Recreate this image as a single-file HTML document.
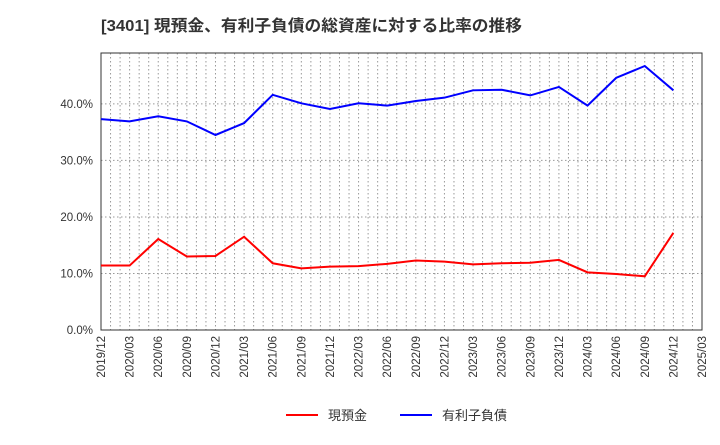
<!DOCTYPE html>
<html><head><meta charset="utf-8"><style>
body{margin:0;background:#fff;}
svg text{font-family:"Liberation Sans","Noto Sans CJK JP",sans-serif;}
</style></head><body>
<svg id="c" width="720" height="440">
<text x="101" y="31" font-size="16" font-weight="bold" fill="#333" textLength="421" lengthAdjust="spacingAndGlyphs">[3401]  現預金、有利子負債の総資産に対する比率の推移</text>
</svg>
<script>
const categories=["2019/12","2020/03","2020/06","2020/09","2020/12","2021/03","2021/06","2021/09","2021/12","2022/03","2022/06","2022/09","2022/12","2023/03","2023/06","2023/09","2023/12","2024/03","2024/06","2024/09","2024/12","2025/03"];
const cashValues=[11.4,11.4,16.1,13.0,13.1,16.5,11.8,10.9,11.2,11.3,11.7,12.3,12.1,11.6,11.8,11.9,12.4,10.2,9.9,9.5,17.2];
const debtValues=[37.3,36.9,37.8,36.9,34.5,36.6,41.6,40.1,39.1,40.1,39.7,40.5,41.1,42.4,42.5,41.5,43.0,39.7,44.6,46.7,42.4];
const yTicks=[0,10,20,30,40];
const L=101,R=702,T=53,B=330,yMax=49;
const NS="http://www.w3.org/2000/svg";
const svg=document.getElementById('c');
const xs=i=>L+(R-L)*i/(categories.length-1);
const ys=v=>B-(B-T)*v/yMax;
function el(t,a){const e=document.createElementNS(NS,t);for(const k in a)e.setAttribute(k,a[k]);svg.appendChild(e);return e;}
const months=(categories.length-1)*3;
for(let m=1;m<months;m++){const x=L+(R-L)*m/months;
const g=el('line',{x1:x,x2:x,y1:T,y2:B,stroke:'#999','stroke-dasharray':'1.5,2.5','stroke-width':1});
}
yTicks.forEach(v=>{const y=ys(v);
if(v>0){const g=el('line',{x1:L,x2:R,y1:y,y2:y,stroke:'#999','stroke-dasharray':'1.5,2.5'});
}
const t=el('text',{x:L-8,y:y+4,'text-anchor':'end','font-size':11.5,fill:'#333'});t.textContent=v.toFixed(1)+'%';
});
const f=el('rect',{x:L,y:T,width:R-L,height:B-T,fill:'none',stroke:'#333'});

categories.forEach((c,i)=>{const x=xs(i);const t=el('text',{x:x+4,y:B+6,'text-anchor':'end','font-size':11.5,fill:'#333',transform:`rotate(-90 ${x+4} ${B+6})`});t.textContent=c;
});
function series(vals,col,name){const p=el('polyline',{points:vals.map((v,i)=>xs(i)+','+ys(v)).join(' '),fill:'none',stroke:col,'stroke-width':2});
}
series(debtValues,'#0000ff','debt-line');
series(cashValues,'#ff0000','cash-line');
function legend(x,col,label,name){const g=document.createElementNS(NS,'g');svg.appendChild(g);

const l=document.createElementNS(NS,'line');l.setAttribute('x1',x);l.setAttribute('x2',x+32);l.setAttribute('y1',415);l.setAttribute('y2',415);l.setAttribute('stroke',col);l.setAttribute('stroke-width',2);g.appendChild(l);
const t=document.createElementNS(NS,'text');t.setAttribute('x',x+42);t.setAttribute('y',420);t.setAttribute('font-size',13);t.setAttribute('fill','#333');t.textContent=label;g.appendChild(t);}
legend(286,'#ff0000','現預金','legend-cash');
legend(400,'#0000ff','有利子負債','legend-debt');
</script>
</body></html>
